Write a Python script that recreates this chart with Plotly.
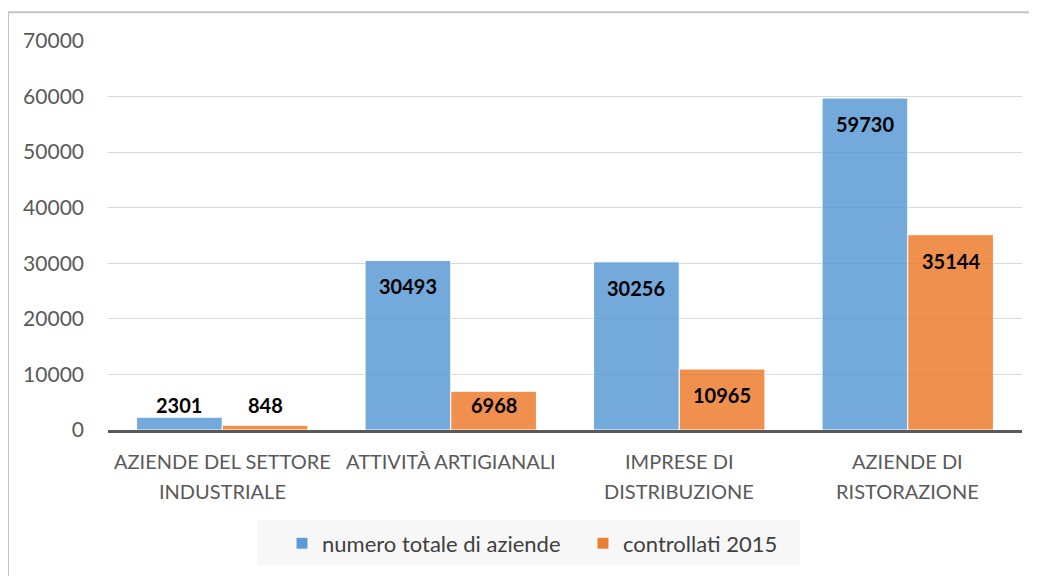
import plotly.graph_objects as go

categories = ["AZIENDE DEL SETTORE<br>INDUSTRIALE", "ATTIVITÀ ARTIGIANALI",
              "IMPRESE DI<br>DISTRIBUZIONE", "AZIENDE DI<br>RISTORAZIONE"]
cat_keys = ["c1", "c2", "c3", "c4"]
series_names = ["numero totale di aziende", "controllati 2015"]
totale = [2301, 30493, 30256, 59730]
controllati = [848, 6968, 10965, 35144]
colors = ["#5B9BD5", "#ED7D31"]
y_ticks = [0, 10000, 20000, 30000, 40000, 50000, 60000, 70000]

OFF = 8  # page body offset
W, H = 1037 - OFF, 576 - OFF
L, R, T, B = 108 - OFF, 15, 41 - OFF, 144
plot_w = W - L - R
plot_h = H - T - B
ymax = 70000
ppu = plot_h / ymax
bar_px = plot_w / len(categories) * 0.75 / 2

font = "Lato"
fig = go.Figure()
for name, vals, col in zip(series_names, [totale, controllati], colors):
    fig.add_trace(go.Bar(
        x=cat_keys, y=vals, name=name,
        marker=dict(color=col, opacity=0.85, line=dict(color="white", width=1)),
    ))

annotations = []
for si, vals in enumerate([totale, controllati]):
    sign = -1 if si == 0 else 1
    for k, v in zip(cat_keys, vals):
        ly = max(v - 26 / ppu, 25 / ppu)
        annotations.append(dict(
            x=k, y=ly, xref="x", yref="y", text=f"<b>{v}</b>", showarrow=False,
            xshift=sign * bar_px / 2, yanchor="middle",
            font=dict(family=font, size=20, color="black")))

for k, lab in zip(cat_keys, categories):
    for li, line in enumerate(lab.split("<br>")):
        annotations.append(dict(
            x=k, y=0, xref="x", yref="paper", text=line, showarrow=False,
            yanchor="middle", yshift=-31 - 30 * li,
            font=dict(family=font, size=20, color="#595959")))

def px_x(p):
    return (p - OFF - L) / plot_w

def px_y(p):
    return (H - B - (p - OFF)) / plot_h

shapes = [
    dict(type="rect", xref="paper", yref="paper",
         x0=px_x(8), x1=px_x(1045), y0=px_y(585), y1=px_y(12),
         line=dict(color="#c4c4c4", width=2), fillcolor="rgba(0,0,0,0)", layer="below"),
    dict(type="rect", xref="paper", yref="paper",
         x0=px_x(257), x1=px_x(800), y0=px_y(568), y1=px_y(523),
         line=dict(width=0), fillcolor="#f7f7f7", layer="below"),
]

fig.update_layout(
    width=W, height=H,
    margin=dict(l=L, r=R, t=T, b=B),
    paper_bgcolor="white", plot_bgcolor="white",
    barmode="group", bargap=0.25, bargroupgap=0,
    font=dict(family=font, size=18, color="#595959"),
    showlegend=True,
    legend=dict(orientation="h", x=px_x(282), xanchor="left", y=px_y(546), yanchor="middle",
                bgcolor="rgba(0,0,0,0)", font=dict(family=font, size=22, color="#404040"),
                traceorder="normal", entrywidth=256),
    xaxis=dict(showticklabels=False, showgrid=False, showline=True, linecolor="#595959",
               linewidth=3, ticks="", fixedrange=True),
    yaxis=dict(range=[0, ymax], tickvals=y_ticks, ticktext=[str(t) for t in y_ticks],
               showgrid=True, gridcolor="#d9d9d9", gridwidth=1, zeroline=False,
               showline=False, ticks="", ticklabelstandoff=23,
               tickfont=dict(family=font, size=21, color="#595959")),
    annotations=annotations,
    shapes=shapes,
)

fig.write_html("out.html")
